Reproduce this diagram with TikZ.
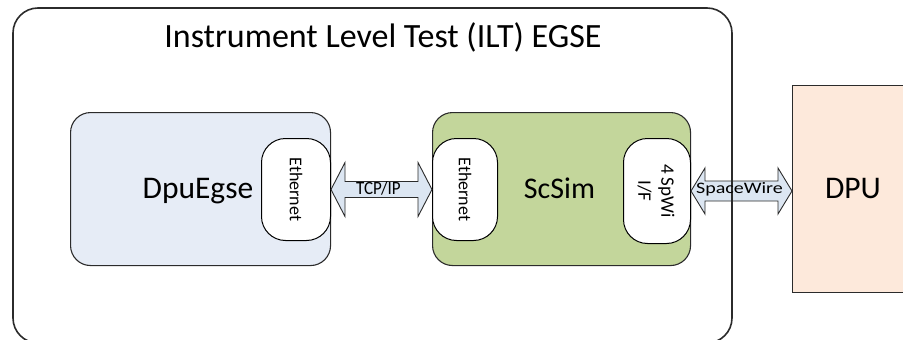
\documentclass[tikz,border=0pt]{standalone}
\usepackage{fontspec}
\setmainfont{Carlito}
\usetikzlibrary{calc}
\definecolor{egsefill}{HTML}{E6ECF6}
\definecolor{simfill}{HTML}{C3D69B}
\definecolor{dpufill}{HTML}{FDE9DB}
\definecolor{arrowfill}{HTML}{DCE6F2}
\definecolor{edge}{HTML}{2B2B2B}
\tikzset{
  x=1pt, y=-1pt,
  unitbox/.style={draw=edge, line width=1.1pt, rounded corners=20pt},
  portbox/.style={draw=black, fill=white, line width=1pt, rounded corners=24pt},
  porttext/.style={font=\fontsize{18}{24}\selectfont, rotate=-90, align=center, inner sep=0pt},
  bigtext/.style={font=\fontsize{31.5}{34}\selectfont, anchor=base, inner sep=0pt},
  linkarrow/.style={draw=edge, fill=arrowfill, line width=0.9pt, line join=miter},
  linktext/.style={font=\fontsize{17}{18}\selectfont, inner sep=0pt}
}
\begin{document}
\begin{tikzpicture}
\useasboundingbox (0,0) rectangle (903,340);
\clip (0,0) rectangle (903,340);

% surrounding EGSE frame
\draw[draw=edge, line width=1.6pt, rounded corners=25pt] (13,8) rectangle (732,343);
\node[font=\fontsize{34}{38}\selectfont, anchor=base, inner sep=0pt] (title) at (383,47) {Instrument Level Test (ILT) EGSE};

% DPU
\node[draw=edge, line width=0.9pt, fill=dpufill, minimum width=130pt, minimum height=207pt, anchor=north west, inner sep=0pt] (dpu) at (792,85) {};
\node[bigtext] (dpulabel) at (853,198) {DPU};

% DpuEgse
\node[unitbox, fill=egsefill, minimum width=260pt, minimum height=153pt, anchor=north west, inner sep=0pt] (egse) at (70,112) {};
\node[bigtext] (egselabel) at (198,198) {DpuEgse};
\node[portbox, minimum width=69pt, minimum height=102pt, anchor=north west, inner sep=0pt] (egseeth) at (261,138) {};
\node[porttext] at (egseeth.center) {Ethernet};

% ScSim
\node[unitbox, fill=simfill, minimum width=258pt, minimum height=153pt, anchor=north west, inner sep=0pt] (sim) at (432,112) {};
\node[bigtext, font=\fontsize{30}{34}\selectfont] (simlabel) at (559.5,198) {ScSim};
\node[portbox, minimum width=65pt, minimum height=102pt, anchor=north west, inner sep=0pt] (simeth) at (432,138) {};
\node[porttext] at (simeth.center) {Ethernet};
\node[portbox, minimum width=67pt, minimum height=105pt, anchor=north west, inner sep=0pt] (simspw) at (623,138) {};
\node[porttext, font=\fontsize{19}{23}\selectfont] at ($(simspw.center)+(-1,0)$) {4 SpWi\\I/F};

% TCP/IP link
\path let \p1=(egseeth.east), \p2=(simeth.west) in
  [linkarrow] (\x1,\y1) -- ($(\x1,\y1)+(14,-27)$) -- ($(\x1,\y1)+(14,-8)$)
  -- ($(\x2,\y1)+(-14,-8)$) -- ($(\x2,\y1)+(-14,-27)$) -- (\x2,\y1)
  -- ($(\x2,\y1)+(-14,27)$) -- ($(\x2,\y1)+(-14,8)$)
  -- ($(\x1,\y1)+(14,8)$) -- ($(\x1,\y1)+(14,27)$) -- cycle;
\node[linktext, yscale=1.1] (tcp) at ($(egseeth.east)!0.5!(simeth.west)+(-3,-1)$) {TCP/IP};

% SpaceWire link
\path let \p1=(simspw.east), \p2=(dpu.west) in
  [linkarrow] (\x1,\y1) -- ($(\x1,\y1)+(14,-23)$) -- ($(\x1,\y1)+(14,-10)$)
  -- ($(\x2,\y1)+(-14,-10)$) -- ($(\x2,\y1)+(-14,-23)$) -- (\x2,\y1)
  -- ($(\x2,\y1)+(-14,23)$) -- ($(\x2,\y1)+(-14,10)$)
  -- ($(\x1,\y1)+(14,10)$) -- ($(\x1,\y1)+(14,23)$) -- cycle;
\draw[draw=edge, line width=1.6pt] (732,160) -- (732,216);
\node[linktext, font=\fontsize{16}{17}\selectfont, xscale=1.25] (spw) at ($(simspw.east)!0.5!(dpu.west)+(-2,-1)$) {SpaceWire};
\end{tikzpicture}
\end{document}
